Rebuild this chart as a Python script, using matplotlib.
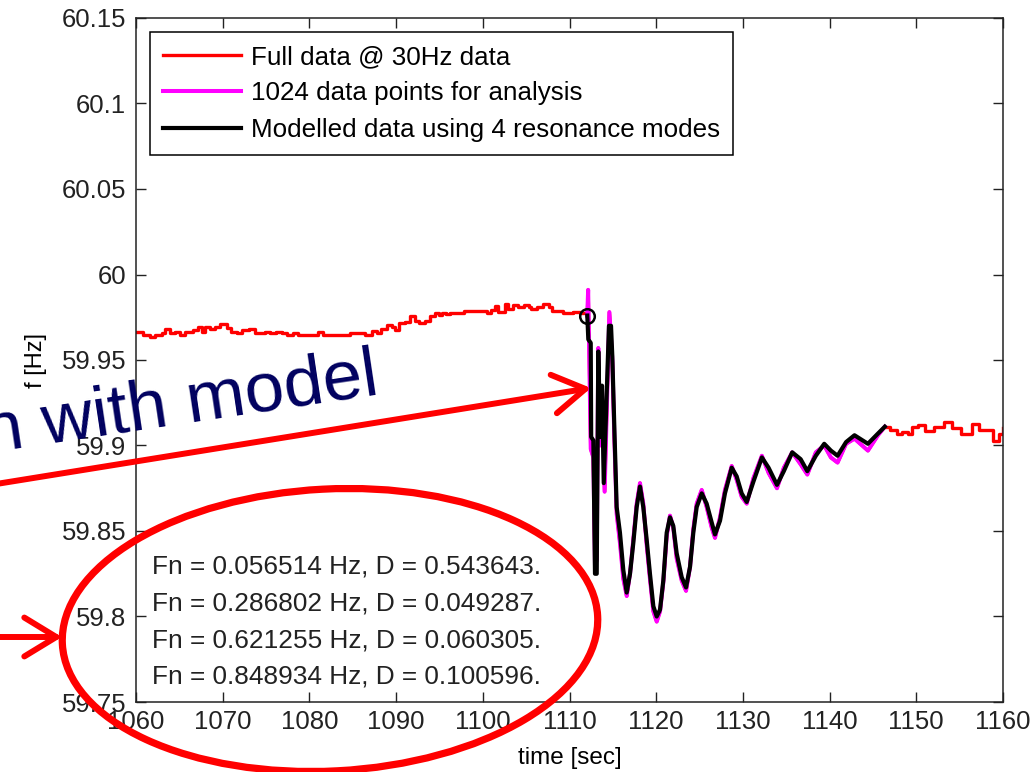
import matplotlib
matplotlib.use("Agg")
import matplotlib.pyplot as plt
from matplotlib.patches import Ellipse
from matplotlib.ticker import FuncFormatter, MultipleLocator

plt.rcParams['font.family'] = ['Liberation Sans', 'DejaVu Sans']

# full 30 Hz record before the event
red_t_pre = [1060.0, 1060.7, 1060.8, 1061.6, 1062.2, 1063.0, 1063.3, 1063.9, 1064.5, 1065.1,
             1065.6, 1066.6, 1067.2, 1067.6, 1068.0, 1068.5, 1069.1, 1069.7, 1070.5, 1071.0,
             1071.6, 1072.2, 1073.0, 1073.7, 1074.3, 1074.9, 1075.5, 1076.2, 1076.8, 1077.4,
             1078.1, 1078.7, 1080.5, 1081.0, 1081.6, 1084.7, 1085.8, 1086.4, 1087.2, 1087.8,
             1088.3, 1088.9, 1089.5, 1089.9, 1090.3, 1091.0, 1091.6, 1092.2, 1092.6, 1093.3,
             1093.9, 1094.5, 1094.9, 1095.3, 1095.8, 1096.2, 1097.4, 1097.8, 1100.1, 1100.5,
             1101.0, 1101.4, 1101.8, 1102.6, 1102.9, 1103.5, 1104.1, 1104.7, 1105.3, 1105.6,
             1106.2, 1107.0, 1107.6, 1108.0, 1108.5, 1109.3, 1109.7, 1110.4, 1111.2, 1111.8, 1112.05]
red_f_pre = [59.9666, 59.9666, 59.9646, 59.9633, 59.9646, 59.9656, 59.9680, 59.9656, 59.9666, 59.9646,
             59.9666, 59.9675, 59.9695, 59.9666, 59.9695, 59.9680, 59.9695, 59.9709, 59.9686, 59.9666,
             59.9656, 59.9675, 59.9680, 59.9656, 59.9656, 59.9666, 59.9660, 59.9666, 59.9656, 59.9646,
             59.9656, 59.9646, 59.9646, 59.9666, 59.9646, 59.9656, 59.9660, 59.9646, 59.9670, 59.9656,
             59.9680, 59.9705, 59.9695, 59.9675, 59.9714, 59.9724, 59.9757, 59.9730, 59.9718, 59.9730,
             59.9757, 59.9777, 59.9763, 59.9777, 59.9770, 59.9773, 59.9773, 59.9788, 59.9788, 59.9773,
             59.9790, 59.9816, 59.9780, 59.9828, 59.9800, 59.9822, 59.9810, 59.9822, 59.9810, 59.9798,
             59.9810, 59.9830, 59.9810, 59.9788, 59.9784, 59.9777, 59.9777, 59.9780, 59.9777, 59.9777, 59.976]

# full 30 Hz record after the analysis window
red_t_post = [1146.37, 1146.94, 1147.73, 1148.30, 1149.09, 1149.47, 1150.25, 1151.03, 1152.00,
              1153.16, 1154.13, 1155.10, 1156.46, 1157.24, 1158.02, 1158.79, 1159.57, 1160.0]
red_f_post = [59.911, 59.909, 59.907, 59.908, 59.907, 59.911, 59.912, 59.9085, 59.911,
              59.914, 59.910, 59.907, 59.9125, 59.909, 59.909, 59.9025, 59.907, 59.910]

# 1024 points used for the analysis
mag_t = [1112.05, 1112.15, 1112.25, 1112.45, 1112.75, 1112.94, 1113.14, 1113.32, 1113.55, 1113.75,
         1114.05, 1114.60, 1114.94, 1115.17, 1115.44, 1115.82, 1116.21, 1116.60, 1117.00, 1117.36,
         1117.75, 1118.13, 1118.51, 1118.90, 1119.28, 1119.67, 1120.06, 1120.44, 1120.82, 1121.21,
         1121.59, 1121.97, 1122.36, 1122.94, 1123.44, 1123.90, 1124.28, 1124.67, 1125.25, 1125.82,
         1126.40, 1126.78, 1127.36, 1127.93, 1128.71, 1129.28, 1129.86, 1130.44, 1131.22, 1132.19,
         1132.96, 1133.93, 1134.72, 1135.69, 1136.66, 1137.43, 1138.41, 1139.38, 1140.15, 1140.92,
         1141.90, 1142.87, 1144.42, 1145.58, 1146.37]
mag_f = [59.976, 59.991, 59.962, 59.898, 59.893, 59.830, 59.833, 59.957, 59.900, 59.933,
         59.873, 59.978, 59.950, 59.905, 59.860, 59.843, 59.822, 59.812, 59.826, 59.845,
         59.866, 59.878, 59.866, 59.842, 59.822, 59.803, 59.797, 59.803, 59.820, 59.847,
         59.859, 59.852, 59.834, 59.821, 59.815, 59.829, 59.851, 59.866, 59.874, 59.864,
         59.852, 59.846, 59.858, 59.874, 59.888, 59.880, 59.870, 59.866, 59.881, 59.894,
         59.884, 59.875, 59.887, 59.896, 59.889, 59.883, 59.896, 59.900, 59.893, 59.890,
         59.901, 59.904, 59.897, 59.906, 59.911]

# modelled signal (4 modes)
mod_t = [1112.05, 1112.17, 1112.45, 1112.50, 1112.75, 1112.94, 1113.14, 1113.32, 1113.55, 1113.75,
         1113.95, 1114.55, 1114.79, 1114.94, 1115.17, 1115.44, 1115.82, 1116.21, 1116.60, 1116.98,
         1117.36, 1117.75, 1118.13, 1118.51, 1118.90, 1119.28, 1119.67, 1120.06, 1120.44, 1120.82,
         1121.21, 1121.59, 1121.97, 1122.36, 1122.94, 1123.44, 1123.90, 1124.28, 1124.67, 1125.25,
         1125.82, 1126.40, 1126.78, 1127.36, 1127.93, 1128.71, 1129.28, 1129.86, 1130.44, 1131.22,
         1132.19, 1132.96, 1133.93, 1134.72, 1135.69, 1136.66, 1137.43, 1138.41, 1139.38, 1140.15,
         1140.92, 1141.90, 1142.87, 1144.42, 1145.58, 1146.37]
mod_f = [59.976, 59.962, 59.960, 59.905, 59.903, 59.825, 59.825, 59.955, 59.905, 59.935,
         59.878, 59.970, 59.970, 59.952, 59.911, 59.864, 59.849, 59.827, 59.814, 59.825,
         59.843, 59.864, 59.876, 59.864, 59.845, 59.825, 59.806, 59.800, 59.804, 59.821,
         59.849, 59.858, 59.853, 59.837, 59.823, 59.817, 59.829, 59.849, 59.864, 59.872,
         59.866, 59.855, 59.848, 59.856, 59.872, 59.887, 59.882, 59.872, 59.867, 59.879,
         59.893, 59.887, 59.877, 59.885, 59.896, 59.892, 59.885, 59.894, 59.901, 59.897,
         59.894, 59.902, 59.906, 59.901, 59.907, 59.911]

fn_hz = ["0.056514", "0.286802", "0.621255", "0.848934"]
damping = ["0.543643", "0.049287", "0.060305", "0.100596"]

W, H = 1033, 772
fig = plt.figure(figsize=(W / 100, H / 100), dpi=100)
ax = fig.add_axes([136 / W, 1 - 702 / H, 867 / W, 684 / H])

# red record: stepped outside the analysis window, hidden under magenta inside it
ax.plot(red_t_pre, red_f_pre, color='red', lw=2.4, drawstyle='steps-post', label='Full data @ 30Hz data')
ax.plot(mag_t, mag_f, color='red', lw=2.4)
ax.plot(red_t_post, red_f_post, color='red', lw=2.4, drawstyle='steps-post')
ax.plot(mag_t, mag_f, color='magenta', lw=2.9, label='1024 data points for analysis')
ax.plot(mod_t, mod_f, color='black', lw=3.0, label='Modelled data using 4 resonance modes')
ax.plot(mod_t[0], mod_f[0], 'o', mfc='none', mec='black', ms=10.5, mew=1.8)

ax.set_xlim(1060, 1160)
ax.set_ylim(59.75, 60.15)
ax.xaxis.set_major_locator(MultipleLocator(10))
ax.yaxis.set_major_locator(MultipleLocator(0.05))
ax.yaxis.set_major_formatter(FuncFormatter(lambda v, p: f"{v:g}"))
ax.tick_params(direction='in', length=7, width=1, top=True, right=True,
               labelsize=18.5, colors='#222222')
ax.tick_params(axis='y', pad=7)
ax.tick_params(axis='x', pad=6)
for s in ax.spines.values():
    s.set_linewidth(1.1)
    s.set_color('#222222')

ax.set_xlabel('time [sec]', fontsize=17.5)
ax.set_ylabel('f [Hz]', fontsize=17)
ax.xaxis.set_label_coords(0.5, -0.066)
ax.yaxis.set_label_coords(-0.103, 0.5)

leg = ax.legend(loc='upper left', bbox_to_anchor=(150 / W, 1 - 32 / H),
                bbox_transform=fig.transFigure, borderaxespad=0, fontsize=18.7,
                handlelength=3.0, handletextpad=0.4, labelspacing=0.48,
                borderpad=0.5, fancybox=False, framealpha=1)
leg.get_frame().set_edgecolor('black')
leg.get_frame().set_linewidth(1.1)

for i, (fn, d) in enumerate(zip(fn_hz, damping)):
    ax.text(1061.9, 59.829 - i * 0.02146, f"Fn = {fn} Hz, D = {d}.", fontsize=18.9,
            va='center', ha='left', color='#222222')

# slide annotations drawn on top
ov = fig.add_axes([0, 0, 1, 1], zorder=10)
ov.set_xlim(0, W)
ov.set_ylim(H, 0)
ov.axis('off')

ov.add_patch(Ellipse((330, 630), 536, 282, angle=-3, fill=False, ec='red', lw=5.2))
arrow = dict(arrowstyle='->,head_length=1.15,head_width=0.7', color='red', lw=4.3,
             mutation_scale=20, shrinkA=0, shrinkB=0)
ov.annotate('', xy=(591, 388), xytext=(-10, 485), arrowprops=arrow)
ov.annotate('', xy=(62, 637), xytext=(-10, 637), arrowprops=arrow)
ov.text(380, 394, 'n with model', fontsize=51, color='#00005f', rotation=8.5,
        rotation_mode='anchor', ha='right', va='baseline')

fig.savefig('out.png', dpi=100)
